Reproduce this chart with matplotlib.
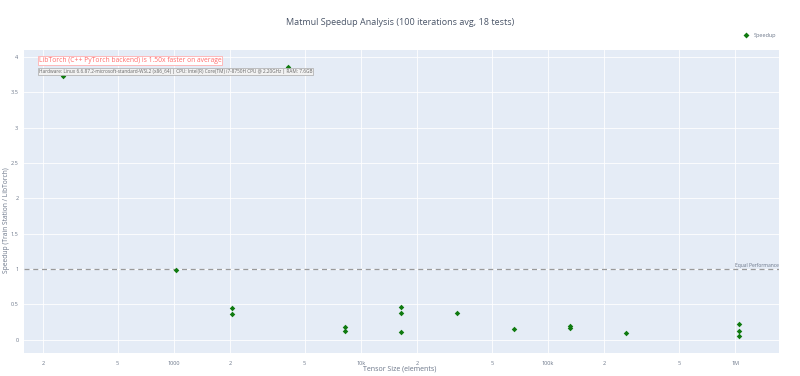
import numpy as np
import matplotlib.pyplot as plt
from matplotlib.lines import Line2D

# data (tensor size in elements, speedup)
sizes = [256, 1024, 2048, 2048, 4096, 8192, 8192, 16384, 16384, 16384,
         32768, 65536, 131072, 131072, 262144, 1048576, 1048576, 1048576]
speedup = [3.73, 0.99, 0.45, 0.37, 3.86, 0.18, 0.12, 0.46, 0.38, 0.11,
           0.38, 0.15, 0.19, 0.17, 0.09, 0.22, 0.12, 0.05]

x_ticks = [200, 500, 1000, 2000, 5000, 10000, 20000, 50000, 100000, 200000, 500000, 1000000]
x_tick_labels = ['2', '5', '1000', '2', '5', '10k', '2', '5', '100k', '2', '5', '1M']
y_ticks = [0, 0.5, 1, 1.5, 2, 2.5, 3, 3.5, 4]
y_tick_labels = ['0', '0.5', '1', '1.5', '2', '2.5', '3', '3.5', '4']

avg_note = "LibTorch (C++ PyTorch backend) is 1.50x faster on average"
hw_note = ("Hardware: Linux 6.6.87.2-microsoft-standard-WSL2 (x86_64) | CPU: Intel(R) Core(TM) "
           "i7-8750H CPU @ 2.20GHz | RAM: 7.6GB")

plt.rcParams['font.family'] = ['Open Sans', 'DejaVu Sans']
txt = '#6b7689'
bg = '#e5ecf6'

fig = plt.figure(figsize=(8, 3.76), dpi=100)
ax = fig.add_axes([0.03, 0.061, 0.944, 0.806])
ax.set_facecolor(bg)

ax.scatter(sizes, speedup, marker='D', s=8, color='#0f7a0f', zorder=3, linewidths=0)
ax.axhline(1, color='#999999', linestyle=(0, (4, 3)), linewidth=0.9, zorder=2)

ax.set_xscale('log')
ax.set_xlim(158, 1.72e6)
ax.set_ylim(-0.19, 4.1)
ax.set_xticks(x_ticks)
ax.set_xticklabels(x_tick_labels)
ax.minorticks_off()
ax.set_yticks(y_ticks)
ax.set_yticklabels(y_tick_labels)
ax.tick_params(axis='x', length=0, labelsize=4, labelcolor=txt, pad=6)
ax.tick_params(axis='y', length=0, labelsize=4, labelcolor=txt, pad=4)
ax.grid(True, color='white', linewidth=0.6)
ax.set_axisbelow(True)
for s in ax.spines.values():
    s.set_visible(False)

fig.text(0.5, 0.018, "Tensor Size (elements)", ha='center', va='center', fontsize=5, color=txt)
fig.text(0.008, 0.415, "Speedup (Train Station / LibTorch)", ha='center', va='center',
         rotation=90, fontsize=4.8, color=txt)
fig.suptitle("Matmul Speedup Analysis (100 iterations avg, 18 tests)", fontsize=6.5,
             color='#4a5568', y=0.952)

ax.text(0.999, 1.01, "Equal Performance", transform=ax.get_yaxis_transform(),
        ha='right', va='bottom', fontsize=3.6, color=txt)

ax.text(0.0195, 0.965, avg_note, transform=ax.transAxes, ha='left', va='center',
        fontsize=4.9, color='#ff6b6b',
        bbox=dict(boxstyle='square,pad=0.15', fc='white', ec='#ffb0b0', lw=0.6))
ax.text(0.0195, 0.928, hw_note, transform=ax.transAxes, ha='left', va='center',
        fontsize=3.4, color='#666666',
        bbox=dict(boxstyle='square,pad=0.2', fc='#f2f2f2', ec='#aaaaaa', lw=0.5))

handle = Line2D([], [], marker='D', linestyle='none', markersize=3, color='#0f7a0f',
                markeredgewidth=0, label='Speedup')
fig.legend(handles=[handle], loc='upper right', bbox_to_anchor=(0.976, 0.925),
           frameon=False, fontsize=4, labelcolor=txt, handletextpad=0.3)

plt.savefig("out.png", dpi=100)
